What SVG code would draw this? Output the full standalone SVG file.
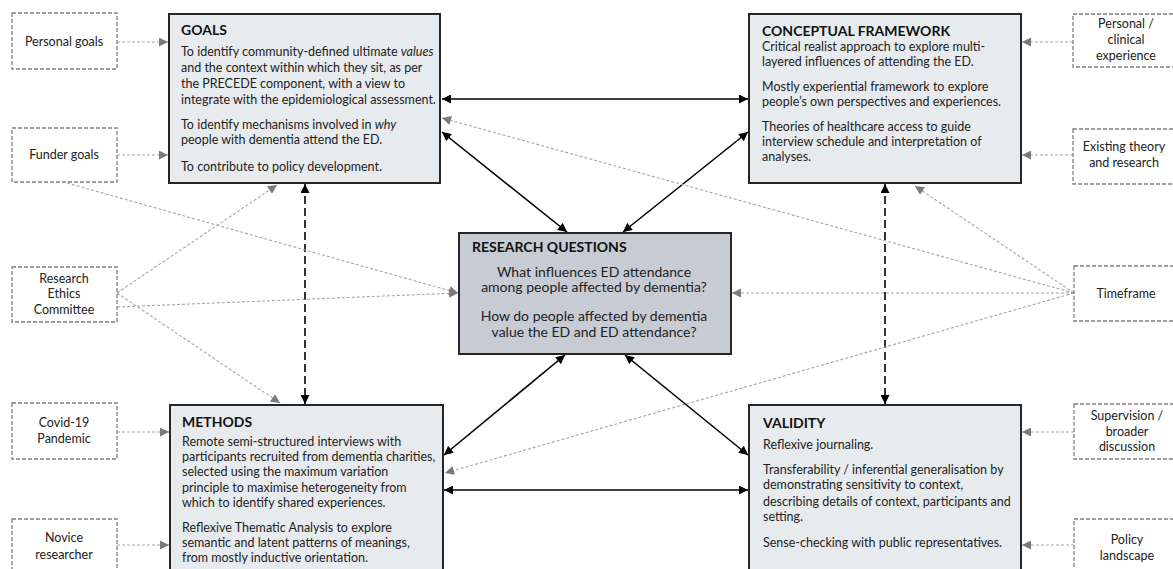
<svg xmlns="http://www.w3.org/2000/svg" width="1173" height="569" viewBox="0 0 1173 569">
  <style>
    text { font-family: Lato, "Noto Sans", "Liberation Sans", sans-serif; fill: #222; }
    .title { font-size: 14px; font-weight: bold; fill: #111; }
    .body { font-size: 12.5px; }
    .side { font-size: 12.5px; text-anchor: middle; }
    .rq { font-size: 14px; text-anchor: middle; }
    .main { fill: #e8ebee; stroke: #262626; stroke-width: 2; }
    .rqbox { fill: #c6cbd4; stroke: #262626; stroke-width: 2; }
    .ext { fill: #fff; stroke: #7f7f7f; stroke-width: 1.3; stroke-dasharray: 4 2; }
    .solid { fill: none; stroke: #000; stroke-width: 1.6; marker-start: url(#ahB); marker-end: url(#ahB); }
    .dashed { fill: none; stroke: #000; stroke-width: 1.6; stroke-dasharray: 8 4; marker-start: url(#ahB); marker-end: url(#ahB); }
    .infl { fill: none; stroke: #a6a6a6; stroke-width: 1.1; stroke-dasharray: 3 2; marker-end: url(#ahG); }
  </style>
  <defs>
    <marker id="ahB" viewBox="0 0 10 10" refX="10" refY="5" markerWidth="10" markerHeight="9" markerUnits="userSpaceOnUse" orient="auto-start-reverse">
      <path d="M0,0 L10,5 L0,10 z" fill="#000"/>
    </marker>
    <marker id="ahG" viewBox="0 0 10 10" refX="10" refY="5" markerWidth="10" markerHeight="9" markerUnits="userSpaceOnUse" orient="auto">
      <path d="M0,0 L10,5 L0,10 z" fill="#7a7a7a"/>
    </marker>
  </defs>

  <rect width="1173" height="569" fill="#fff"/>

  <!-- connectors -->
  <g id="connectors">
    <!-- core relationships -->
    <line class="solid" x1="442" y1="99" x2="748" y2="99"/>
    <line class="solid" x1="442" y1="132" x2="567" y2="232"/>
    <line class="solid" x1="748" y1="132" x2="623" y2="232"/>
    <line class="solid" x1="565" y1="355" x2="444" y2="455"/>
    <line class="solid" x1="625" y1="355" x2="748" y2="455"/>
    <line class="solid" x1="444" y1="490" x2="748" y2="490"/>
    <line class="dashed" x1="305" y1="184" x2="305" y2="404"/>
    <line class="dashed" x1="885" y1="184" x2="885" y2="404"/>

    <!-- external influences, left -->
    <line class="infl" x1="117" y1="42" x2="168" y2="42"/>
    <line class="infl" x1="117" y1="155" x2="168" y2="155"/>
    <line class="infl" x1="67" y1="183" x2="458" y2="293"/>
    <line class="infl" x1="117" y1="293" x2="277" y2="185"/>
    <line class="infl" x1="117" y1="307" x2="458" y2="293"/>
    <line class="infl" x1="117" y1="293" x2="280" y2="403"/>
    <line class="infl" x1="117" y1="432" x2="169" y2="432"/>
    <line class="infl" x1="117" y1="545" x2="169" y2="545"/>

    <!-- external influences, right -->
    <line class="infl" x1="1073" y1="42" x2="1022" y2="42"/>
    <line class="infl" x1="1073" y1="155" x2="1022" y2="155"/>
    <line class="infl" x1="1074" y1="293" x2="442" y2="118"/>
    <line class="infl" x1="1074" y1="293" x2="915" y2="186"/>
    <line class="infl" x1="1074" y1="293" x2="732" y2="293"/>
    <line class="infl" x1="1074" y1="293" x2="445" y2="473"/>
    <line class="infl" x1="1074" y1="432" x2="1022" y2="432"/>
    <line class="infl" x1="1074" y1="545" x2="1022" y2="545"/>
  </g>

  <!-- main components -->
  <g id="goals">
    <rect class="main" x="169" y="14" width="271" height="169"/>
    <text class="title" x="181" y="35">GOALS</text>
    <text class="body" x="181" y="56">To identify community-defined ultimate <tspan font-style="italic">values</tspan></text>
    <text class="body" x="181" y="72">and the context within which they sit, as per</text>
    <text class="body" x="181" y="88">the PRECEDE component, with a view to</text>
    <text class="body" x="181" y="104">integrate with the epidemiological assessment.</text>
    <text class="body" x="181" y="129">To identify mechanisms involved in <tspan font-style="italic">why</tspan></text>
    <text class="body" x="181" y="144">people with dementia attend the ED.</text>
    <text class="body" x="181" y="171">To contribute to policy development.</text>
  </g>

  <g id="conceptual-framework">
    <rect class="main" x="749" y="14" width="272" height="169"/>
    <text class="title" x="762" y="36">CONCEPTUAL FRAMEWORK</text>
    <text class="body" x="762" y="51">Critical realist approach to explore multi-</text>
    <text class="body" x="762" y="66">layered influences of attending the ED.</text>
    <text class="body" x="762" y="91">Mostly experiential framework to explore</text>
    <text class="body" x="762" y="106">people’s own perspectives and experiences.</text>
    <text class="body" x="762" y="131">Theories of healthcare access to guide</text>
    <text class="body" x="762" y="146">interview schedule and interpretation of</text>
    <text class="body" x="762" y="161">analyses.</text>
  </g>

  <g id="research-questions">
    <rect class="rqbox" x="459" y="233" width="272" height="121"/>
    <text class="title" x="472" y="252">RESEARCH QUESTIONS</text>
    <text class="rq" x="594" y="277">What influences ED attendance</text>
    <text class="rq" x="594" y="292">among people affected by dementia?</text>
    <text class="rq" x="594" y="321">How do people affected by dementia</text>
    <text class="rq" x="594" y="337">value the ED and ED attendance?</text>
  </g>

  <g id="methods">
    <rect class="main" x="170" y="405" width="273" height="180"/>
    <text class="title" x="182" y="427">METHODS</text>
    <text class="body" x="182" y="446">Remote semi-structured interviews with</text>
    <text class="body" x="182" y="461">participants recruited from dementia charities,</text>
    <text class="body" x="182" y="476">selected using the maximum variation</text>
    <text class="body" x="182" y="492">principle to maximise heterogeneity from</text>
    <text class="body" x="182" y="507">which to identify shared experiences.</text>
    <text class="body" x="182" y="532">Reflexive Thematic Analysis to explore</text>
    <text class="body" x="182" y="547">semantic and latent patterns of meanings,</text>
    <text class="body" x="182" y="562">from mostly inductive orientation.</text>
  </g>

  <g id="validity">
    <rect class="main" x="749" y="405" width="272" height="180"/>
    <text class="title" x="763" y="428">VALIDITY</text>
    <text class="body" x="763" y="449">Reflexive journaling.</text>
    <text class="body" x="763" y="474">Transferability / inferential generalisation by</text>
    <text class="body" x="763" y="489">demonstrating sensitivity to context,</text>
    <text class="body" x="763" y="506">describing details of context, participants and</text>
    <text class="body" x="763" y="521">setting.</text>
    <text class="body" x="763" y="547">Sense-checking with public representatives.</text>
  </g>

  <!-- external influences, left column -->
  <g id="personal-goals">
    <rect class="ext" x="12" y="13" width="105" height="56"/>
    <text class="side" x="64" y="46">Personal goals</text>
  </g>
  <g id="funder-goals">
    <rect class="ext" x="12" y="128" width="105" height="54"/>
    <text class="side" x="64" y="159">Funder goals</text>
  </g>
  <g id="ethics-committee">
    <rect class="ext" x="12" y="267" width="105" height="55"/>
    <text class="side" x="64" y="283">Research</text>
    <text class="side" x="64" y="298">Ethics</text>
    <text class="side" x="64" y="314">Committee</text>
  </g>
  <g id="covid">
    <rect class="ext" x="12" y="403" width="105" height="56"/>
    <text class="side" x="64" y="427">Covid-19</text>
    <text class="side" x="64" y="443">Pandemic</text>
  </g>
  <g id="novice-researcher">
    <rect class="ext" x="12" y="519" width="105" height="62"/>
    <text class="side" x="64" y="542">Novice</text>
    <text class="side" x="64" y="559">researcher</text>
  </g>

  <!-- external influences, right column -->
  <g id="clinical-experience">
    <rect class="ext" x="1073" y="14" width="106" height="53"/>
    <text class="side" x="1126" y="28">Personal /</text>
    <text class="side" x="1126" y="44">clinical</text>
    <text class="side" x="1126" y="60">experience</text>
  </g>
  <g id="existing-theory">
    <rect class="ext" x="1073" y="129" width="106" height="55"/>
    <text class="side" x="1124" y="151">Existing theory</text>
    <text class="side" x="1124" y="167">and research</text>
  </g>
  <g id="timeframe">
    <rect class="ext" x="1074" y="266" width="106" height="55"/>
    <text class="side" x="1126" y="298">Timeframe</text>
  </g>
  <g id="supervision">
    <rect class="ext" x="1074" y="404" width="106" height="55"/>
    <text class="side" x="1127" y="420">Supervision /</text>
    <text class="side" x="1127" y="436">broader</text>
    <text class="side" x="1127" y="451">discussion</text>
  </g>
  <g id="policy-landscape">
    <rect class="ext" x="1074" y="519" width="106" height="62"/>
    <text class="side" x="1127" y="544">Policy</text>
    <text class="side" x="1127" y="560">landscape</text>
  </g>
</svg>
